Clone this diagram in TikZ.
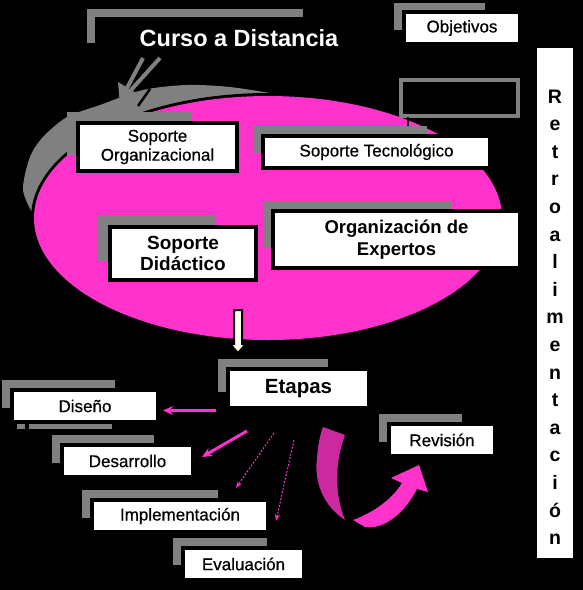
\documentclass[tikz,border=0pt]{standalone}
\usepackage{fontspec}
\setmainfont{Liberation Sans}
\newfontfamily\medfont[FakeBold=0.6]{Liberation Sans}
\usetikzlibrary{arrows.meta}
\definecolor{pinkk}{RGB}{255,51,204}
\definecolor{darkpink}{RGB}{204,40,160}
\definecolor{greyc}{RGB}{128,128,128}
\definecolor{cream}{RGB}{255,255,238}
\begin{document}
\begin{tikzpicture}[x=1pt,y=-1pt,
  box/.style={draw=black,fill=white,line width=4pt,inner sep=0pt,align=center,text=black},
  small/.style={font=\medfont\fontsize{17}{19}\selectfont},
  parrow/.style={pinkk,line width=3pt,-{Stealth[length=10pt,width=9pt]}},
  darrow/.style={pinkk,line width=1pt,dash pattern=on 2pt off 1.5pt,-{Stealth[length=7pt,width=5pt]}}]
\fill[black] (0,0) rectangle (583,590);
\useasboundingbox (0,0) rectangle (583,590);
% grey crescent
\fill[greyc] plot[smooth] coordinates {(34,216) (23,190) (30,157) (43,137) (67,117) (100,105) (143,90) (187,85) (230,87) (276,94)} -- (276,150) -- (80,230) -- cycle;
% grey arrow
\draw[greyc,line width=4pt] (143,58) -- (127,88);
\draw[greyc,line width=4pt] (160,58) -- (131,90);
\fill[greyc] (120,106) -- (118,82) -- (141,96) -- cycle;
\draw[black,line width=2.5pt] (150,89) -- (138,106);
% ellipse
\fill[black] (268,218) ellipse [x radius=237pt, y radius=125pt];
\fill[pinkk] (268,218) ellipse [x radius=234pt, y radius=122pt];
% empty grey frame
\draw[greyc,line width=4pt] (401,80) rectangle (518,116);
\draw[black,line width=2pt] (408,117) -- (408,126);
% title
\fill[greyc] (87,9) rectangle (303,17);
\fill[greyc] (87,9) rectangle (95,43);
\node[text=white,font=\bfseries\fontsize{23.5}{26}\selectfont,anchor=base,inner sep=0pt] (title) at (239,46.5) {Curso a Distancia};
% boxes
\fill[greyc] (394,3) rectangle (485,30);
\node[box,small,minimum width=116pt,minimum height=32pt] (obj) at (462,28) {Objetivos};
\fill[greyc] (67,112) rectangle (192,155);
\node[box,small,minimum width=159pt,minimum height=48pt] (sorg) at (157.5,147) {Soporte\\Organizacional};
\fill[greyc] (253,126) rectangle (427,153);
\node[box,small,minimum width=227pt,minimum height=32pt] (stec) at (376.5,152) {Soporte Tecnológico};
\fill[greyc] (98,215) rectangle (215,261);
\node[box,font=\bfseries\fontsize{19}{21}\selectfont,minimum width=146pt,minimum height=53pt] (sdid) at (183,253.5) {Soporte\\Didáctico};
\fill[greyc] (263,201) rectangle (452,248);
\node[box,font=\bfseries\fontsize{18.5}{21.5}\selectfont,minimum width=247pt,minimum height=57pt] (orgexp) at (396.5,239.5) {Organización de\\Expertos};
% down arrow
\filldraw[fill=cream,draw=black,line width=2pt] (234,310) -- (242,310) -- (242,344) -- (246,344) -- (238,353) -- (230,344) -- (234,344) -- cycle;
% etapas
\fill[greyc] (218,359) rectangle (328,392);
\node[box,font=\bfseries\fontsize{20.5}{23}\selectfont,minimum width=141pt,minimum height=39pt] (etapas) at (298.5,388.5) {Etapas};
\fill[greyc] (2,380) rectangle (115,408);
\node[box,small,minimum width=146pt,minimum height=32pt] (dis) at (85,406) {Diseño};
\fill[greyc] (17,424) rectangle (25,429);
\fill[greyc] (29,424) rectangle (112,429);
\fill[greyc] (52,435) rectangle (154,463);
\node[box,small,minimum width=131pt,minimum height=32pt] (des) at (127.5,461) {Desarrollo};
\fill[greyc] (82,490) rectangle (218,518);
\node[box,small,minimum width=176pt,minimum height=32pt] (imp) at (180,516) {Implementación};
\fill[greyc] (173,538) rectangle (267,565);
\node[box,small,minimum width=121pt,minimum height=32pt] (eva) at (243.5,564) {Evaluación};
\fill[greyc] (379,414) rectangle (462,442);
\node[box,small,minimum width=106pt,minimum height=32pt] (rev) at (442,440) {Revisión};
% arrows from etapas
\coordinate (a1s) at (216,410.5); \coordinate (a1e) at (163,410.5);
\coordinate (a2s) at (247,431); \coordinate (a2e) at (202,457);
\coordinate (a3s) at (274,433); \coordinate (a3e) at (236,488);
\coordinate (a4s) at (294,440); \coordinate (a4e) at (276,521);
\draw[parrow] (a1s) -- (a1e);
\draw[parrow] (a2s) -- (a2e);
\draw[darrow] (a3s) -- (a3e);
\draw[darrow] (a4s) -- (a4e);
% curved arrow
\fill[darkpink] (323,427) -- (345,435) .. controls (336,460) and (333,490) .. (345,520) .. controls (322,505) and (314,480) .. (317,458) .. controls (318,445) and (320,435) .. (323,427) -- cycle;
\fill[pinkk] (353,520) .. controls (375,512) and (393,498) .. (402,483) -- (391,478) -- (419,465) -- (428,492) -- (417,489) .. controls (405,512) and (385,530) .. (365,527) -- cycle;
% retroalimentacion
\fill[white] (537,48) rectangle (573,558);
\foreach \l [count=\k from 0] in {R,e,t,r,o,a,l,i,m,e,n,t,a,c,i,ó,n}
  \node[anchor=base,inner sep=0pt,font=\bfseries\fontsize{19.5}{20}\selectfont] (rl\k) at (555,103+27.6*\k) {\l};
\end{tikzpicture}
\end{document}
